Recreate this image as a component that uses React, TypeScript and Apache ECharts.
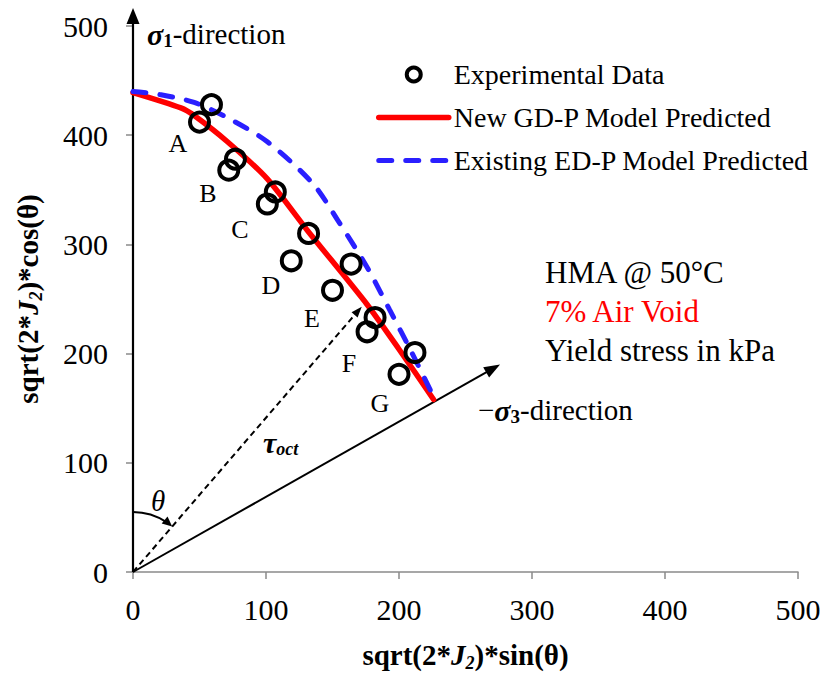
import React, { useEffect, useRef } from 'react';
import * as echarts from 'echarts';

const FONT = "'Liberation Serif', 'Times New Roman', Times, serif";

// Experimental data (circles)
const EXP_X = [59, 50, 77, 72, 107, 101, 132, 119, 164, 150, 182, 176, 212, 200];
const EXP_Y = [428, 412, 378, 368, 348, 337, 310, 285, 282, 258, 233, 220, 201, 181];
// New GD-P model predicted
const GDP_X = [0, 36, 46, 71, 101, 131, 176, 200, 226];
const GDP_Y = [439, 425, 418, 394, 360, 313, 245, 204, 158];
// Existing ED-P model predicted
const EDP_X = [0, 21, 46, 71, 101, 135, 154, 176, 193, 210, 227];
const EDP_Y = [440, 437, 430, 416, 394, 356, 322, 279, 240, 200, 158];

const AXIS_TICKS = [0, 100, 200, 300, 400, 500];
// Diagram vectors (data coords)
const SIGMA3_END = [276, 190];
const TAU_END = [172, 243];

const LETTERS = ['A', 'B', 'C', 'D', 'E', 'F', 'G'];
const LETTER_PX = [
  [178, 143], [208, 193], [240, 229], [271, 285], [312, 318], [349, 363], [380, 403],
];

const RED = '#ff0000';
const BLUE = '#2a1fff';

const zip = (a: number[], b: number[]) => a.map((v, i) => [v, b[i]]);

function head(tip: number[], dir: number[], L: number, W: number) {
  const len = Math.hypot(dir[0], dir[1]);
  const d = [dir[0] / len, dir[1] / len];
  const n = [-d[1], d[0]];
  const bx = tip[0] - L * d[0];
  const by = tip[1] - L * d[1];
  return [
    [tip[0], tip[1]],
    [bx + (W / 2) * n[0], by + (W / 2) * n[1]],
    [bx - (W / 2) * n[0], by - (W / 2) * n[1]],
  ];
}

export default function App() {
  const ref = useRef<HTMLDivElement>(null);
  useEffect(() => {
    const el = ref.current!;
    const chart = echarts.init(el, null, { renderer: 'svg' });
    const axisCommon = {
      type: 'value',
      min: AXIS_TICKS[0],
      max: AXIS_TICKS[AXIS_TICKS.length - 1],
      interval: 100,
      splitLine: { show: false },
      axisTick: { show: true, inside: false, length: 7, lineStyle: { color: '#8a8a8a', width: 1.5 } },
      axisLabel: { fontFamily: FONT, fontSize: 30, color: '#000' },
      nameLocation: 'middle',
    };
    const richName = {
      b: { fontFamily: FONT, fontSize: 29, fontWeight: 'bold', color: '#000', lineHeight: 34 },
      i: { fontFamily: FONT, fontSize: 29, fontWeight: 'bold', fontStyle: 'italic', color: '#000', lineHeight: 34 },
      s: { fontFamily: FONT, fontSize: 18, fontWeight: 'bold', fontStyle: 'italic', color: '#000', lineHeight: 18, verticalAlign: 'bottom' },
    };
    const hidden = { color: 'rgba(0,0,0,0)', borderWidth: 0, opacity: 0 };
    const redLine = { color: RED, width: 5.5, cap: 'round' };
    const blueLine = { color: BLUE, width: 5, type: [13, 14], cap: 'round' };
    const option: any = {
      animation: false,
      backgroundColor: '#fff',
      grid: { left: 133, right: 30, top: 26, bottom: 99, containLabel: false },
      xAxis: {
        ...axisCommon,
        axisLine: { show: true, lineStyle: { color: '#8a8a8a', width: 1.5 } },
        axisLabel: { ...axisCommon.axisLabel, margin: 22 },
        name: '{b|sqrt(2*}{i|J}{s|2}{b|)*sin(θ)}',
        nameGap: 66,
        nameTextStyle: { rich: richName },
      },
      yAxis: {
        ...axisCommon,
        axisLine: { show: false },
        axisLabel: { ...axisCommon.axisLabel, margin: 25 },
        name: '{b|sqrt(2*}{i|J}{s|2}{b|)*cos(θ)}',
        nameGap: 88,
        nameRotate: 90,
        nameTextStyle: { rich: richName },
      },
      legend: {
        orient: 'vertical',
        left: 371,
        top: 54,
        itemWidth: 70,
        itemHeight: 14,
        itemGap: 12,
        textStyle: { fontFamily: FONT, fontSize: 28, color: '#000', lineHeight: 31 },
        data: [
          { name: 'Experimental Data', itemStyle: { color: 'rgba(0,0,0,0)', borderColor: '#000', borderWidth: 4 } },
          { name: 'New GD-P Model Predicted', itemStyle: hidden, lineStyle: redLine },
          { name: 'Existing ED-P Model Predicted', itemStyle: hidden, lineStyle: blueLine },
        ],
      },
      series: [
        {
          name: 'New GD-P Model Predicted',
          type: 'line',
          data: zip(GDP_X, GDP_Y),
          symbol: 'none',
          smooth: 0.25,
          lineStyle: redLine,
          itemStyle: { color: RED },
          z: 2,
        },
        {
          name: 'Existing ED-P Model Predicted',
          type: 'line',
          data: zip(EDP_X, EDP_Y),
          symbol: 'none',
          smooth: 0.3,
          lineStyle: blueLine,
          itemStyle: { color: BLUE },
          z: 3,
        },
        {
          name: 'Experimental Data',
          type: 'scatter',
          data: zip(EXP_X, EXP_Y),
          symbol: 'circle',
          symbolSize: 19,
          itemStyle: { color: 'rgba(0,0,0,0)', borderColor: '#000', borderWidth: 4, opacity: 1 },
          z: 4,
        },
      ],
    };
    chart.setOption(option);

    const P = (x: number, y: number) => chart.convertToPixel({ xAxisIndex: 0, yAxisIndex: 0 }, [x, y]) as number[];
    const O = P(0, 0);
    const top = P(0, 500);
    const yTip = [O[0], top[1] - 18];
    const s3 = P(SIGMA3_END[0], SIGMA3_END[1]);
    const tau = P(TAU_END[0], TAU_END[1]);
    const g: any[] = [];
    const stroke = (x1: number, y1: number, x2: number, y2: number, w: number, dash?: number[]) => ({
      type: 'line',
      shape: { x1, y1, x2, y2 },
      style: { stroke: '#000', lineWidth: w, lineDash: dash },
      z: 1,
    });
    const back = (tip: number[], from: number[], L: number) => {
      const dx = tip[0] - from[0];
      const dy = tip[1] - from[1];
      const len = Math.hypot(dx, dy);
      return [tip[0] - (dx / len) * L, tip[1] - (dy / len) * L];
    };
    // sigma1 axis arrow
    const yb = back(yTip, O, 12);
    g.push(stroke(O[0], O[1], yb[0], yb[1], 2.2));
    g.push({ type: 'polygon', shape: { points: head(yTip, [0, -1], 16, 13) }, style: { fill: '#000' }, z: 1 });
    // sigma3 arrow
    const sb = back(s3, O, 12);
    g.push(stroke(O[0], O[1], sb[0], sb[1], 2));
    g.push({ type: 'polygon', shape: { points: head(s3, [s3[0] - O[0], s3[1] - O[1]], 16, 12) }, style: { fill: '#000' }, z: 1 });
    // tau_oct dashed arrow
    const tb = back(tau, O, 8);
    g.push(stroke(O[0], O[1], tb[0], tb[1], 2, [6, 4]));
    g.push({ type: 'polygon', shape: { points: head(tau, [tau[0] - O[0], tau[1] - O[1]], 11, 8) }, style: { fill: '#000' }, z: 1 });
    // theta arc
    const r = 60;
    const a = Math.atan2(tau[1] - O[1], tau[0] - O[0]);
    const arcTip = [O[0] + r * Math.cos(a), O[1] + r * Math.sin(a)];
    g.push({
      type: 'arc',
      shape: { cx: O[0], cy: O[1], r, startAngle: -Math.PI / 2, endAngle: a - 0.12, clockwise: true },
      style: { stroke: '#000', lineWidth: 2, fill: 'none' },
      z: 1,
    });
    g.push({ type: 'polygon', shape: { points: head(arcTip, [-Math.sin(a), Math.cos(a)], 10, 9) }, style: { fill: '#000' }, z: 1 });

    const txt = (x: number, y: number, text: string, extra: any = {}) => ({
      type: 'text',
      x,
      y,
      style: {
        text,
        fontFamily: FONT,
        fontSize: 26,
        fill: '#000',
        align: 'left',
        verticalAlign: 'middle',
        ...extra,
      },
      z: 5,
    });
    const rich = {
      g: { fontFamily: FONT, fontSize: 30, fontWeight: 'bold', fontStyle: 'italic', fill: '#000', lineHeight: 32 },
      s: { fontFamily: FONT, fontSize: 19, fontWeight: 'bold', fill: '#000', lineHeight: 19, verticalAlign: 'bottom' },
      si: { fontFamily: FONT, fontSize: 18, fontWeight: 'bold', fontStyle: 'italic', fill: '#000', lineHeight: 18, verticalAlign: 'bottom' },
      n: { fontFamily: FONT, fontSize: 29, fill: '#000', lineHeight: 32 },
    };
    g.push(txt(147, 34, '{g|σ}{s|1}{n|-direction}', { rich }));
    g.push(txt(478, 410, '{n|−}{g|σ}{s|3}{n|-direction}', { rich }));
    g.push(txt(263, 442, '{g|τ}{si|oct}', { rich }));
    g.push(txt(158, 501, 'θ', { fontStyle: 'italic', fontSize: 29, align: 'center' }));
    LETTERS.forEach((l, i) => g.push(txt(LETTER_PX[i][0], LETTER_PX[i][1], l, { fontSize: 26, align: 'center' })));
    g.push(txt(545, 272, 'HMA @ 50°C', { fontSize: 31 }));
    g.push(txt(545, 311, '7% Air Void', { fontSize: 31, fill: RED }));
    g.push(txt(545, 350, 'Yield stress in kPa', { fontSize: 31 }));

    chart.setOption({ graphic: g });
    return () => chart.dispose();
  }, []);
  return <div ref={ref} style={{ position: 'absolute', left: 0, top: 0, width: 828, height: 677 }} />;
}
